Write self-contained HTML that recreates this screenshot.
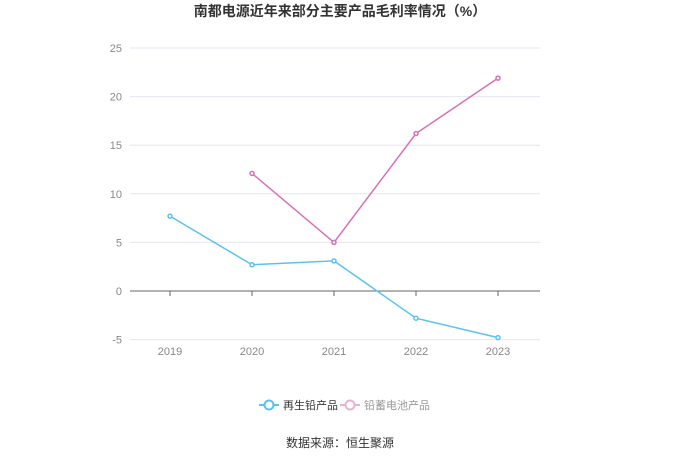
<!DOCTYPE html>
<html><head><meta charset="utf-8"><style>
body{margin:0;width:680px;height:460px;background:#fff;font-family:"Liberation Sans","Noto Sans CJK SC",sans-serif;overflow:hidden}
</style></head><body>
<svg width="680" height="460" xmlns="http://www.w3.org/2000/svg">
<text x="340" y="16" text-anchor="middle" font-size="14" font-weight="bold" fill="#333" font-family="Liberation Sans,Noto Sans CJK SC,sans-serif">南都电源近年来部分主要产品毛利率情况（%）</text>
<g id="grid"></g><g id="axes"></g><g id="series"></g>
<g>
<line x1="259" y1="405" x2="279" y2="405" stroke="#5bc2f0" stroke-width="2"/>
<circle cx="269" cy="405" r="4.5" fill="#fff" stroke="#5bc2f0" stroke-width="2"/>
<text x="283" y="409" font-size="11" fill="#333">再生铅产品</text>
<line x1="340" y1="405" x2="360" y2="405" stroke="#e8b3d8" stroke-width="2"/>
<circle cx="350" cy="405" r="4.5" fill="#fff" stroke="#e8b3d8" stroke-width="2"/>
<text x="364" y="409" font-size="11" fill="#999">铅蓄电池产品</text>
</g>
<text x="340" y="447" text-anchor="middle" font-size="12" fill="#333">数据来源：恒生聚源</text>
</svg>
<script>
const years=["2019","2020","2021","2022","2023"];
const recycledLead=[7.7,2.7,3.1,-2.8,-4.8];
const leadBattery=[null,12.1,5.0,16.2,21.9];
const yTicks=[-5,0,5,10,15,20,25];
const NS="http://www.w3.org/2000/svg";
const x=i=>170+i*82;
const y=v=>291-v*48.6/5;
function mk(t,a,p){const e=document.createElementNS(NS,t);for(const k in a)e.setAttribute(k,a[k]);p.appendChild(e);return e;}
const grid=document.getElementById('grid'),axes=document.getElementById('axes'),ser=document.getElementById('series');
yTicks.forEach(v=>{
 const l=mk('line',{x1:130,x2:540,y1:y(v),y2:y(v),stroke:v===0?'#666':'#e6e6f0','stroke-width':1},grid);
 
 
 const t=mk('text',{x:122,y:y(v)+4,'text-anchor':'end','font-size':11,fill:'#888'},axes);
 t.textContent=v;
 
 
});
years.forEach((yr,i)=>{
 const tk=mk('line',{x1:x(i),x2:x(i),y1:291,y2:296,stroke:'#666'},axes);
 
 
 const t=mk('text',{x:x(i),y:355,'text-anchor':'middle','font-size':11,fill:'#888'},axes);
 t.textContent=yr;
 
 
});
function draw(data,color,name){
 const pts=[];data.forEach((v,i)=>{if(v!==null)pts.push([x(i),y(v)]);});
 const p=mk('polyline',{points:pts.map(q=>q.join(',')).join(' '),fill:'none',stroke:color,'stroke-width':1.5},ser);
 
 
 pts.forEach(q=>{
  const c=mk('circle',{cx:q[0],cy:q[1],r:2,fill:'#fff',stroke:color,'stroke-width':1.5},ser);
  
  
 });
}
draw(recycledLead,'#5bc2f0','recycled-lead');
draw(leadBattery,'#d96fb5','lead-battery');
</script>
</body></html>
